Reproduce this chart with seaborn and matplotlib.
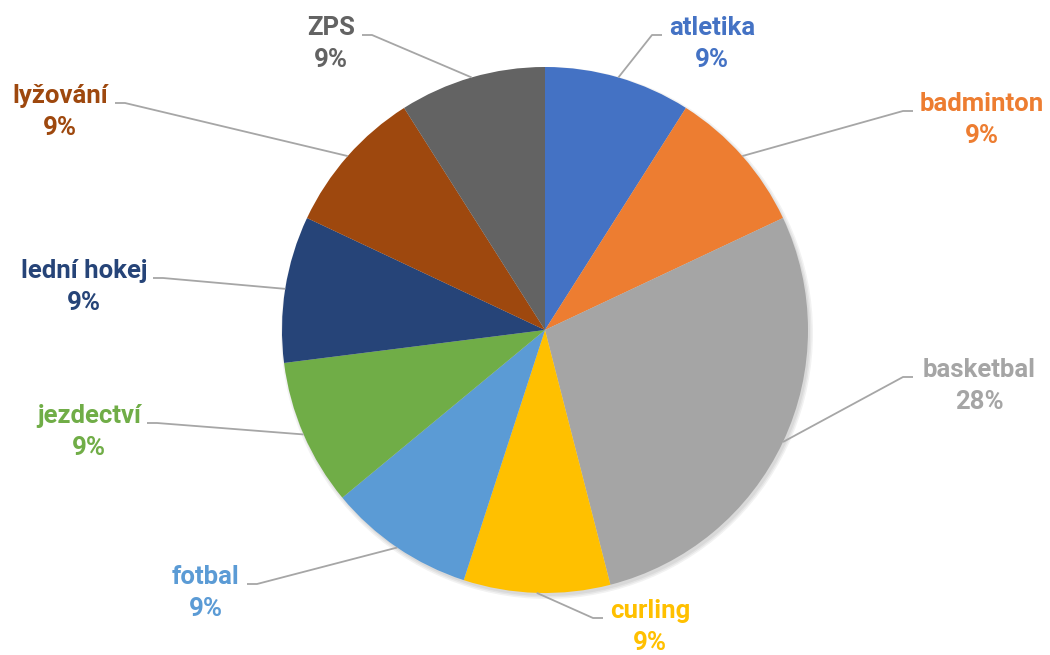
import numpy as np
import seaborn as sns
import matplotlib.pyplot as plt
from matplotlib.patches import Circle

categories = ["atletika", "badminton", "basketbal", "curling", "fotbal",
              "jezdectví", "lední hokej", "lyžování", "ZPS"]
shares = [9, 9, 28, 9, 9, 9, 9, 9, 9]
colors = ["#4472C4", "#ED7D31", "#A5A5A5", "#FFC000", "#5B9BD5",
          "#70AD47", "#264478", "#9E480E", "#636363"]

# label layout in pixels (bend of the leader line, centre of the text)
label_bend = [(652, 35), (903, 111), (903, 377), (593, 618), (257, 584),
              (157, 423), (163, 278), (125, 103), (372, 35)]
label_x = [712, 982, 979, 650, 206, 89, 84, 60, 331]

center = (545, 330)
radius = 263

sns.set_theme(style="white")
plt.rcParams['font.family'] = ['Roboto', 'DejaVu Sans']

fig = plt.figure(figsize=(10.5, 6.55), dpi=100)
ax = fig.add_axes([0, 0, 1, 1])

# soft shadow under the pie
for i, a in enumerate([0.05, 0.05, 0.05]):
    ax.add_patch(Circle((center[0] + 2, center[1] + 3), radius + 3 - i * 1.5,
                        color="black", alpha=a, lw=0, zorder=0))

wedges, _ = ax.pie(shares, colors=colors, startangle=-90, counterclock=True,
                   center=center, radius=radius,
                   wedgeprops=dict(linewidth=0), frame=True)

total = sum(shares)
for w, name, val, col, (bx, by), tx in zip(wedges, categories, shares, colors,
                                            label_bend, label_x):
    theta = np.deg2rad((w.theta1 + w.theta2) / 2)
    ex = center[0] + radius * np.cos(theta)
    ey = center[1] + radius * np.sin(theta)
    side = 1 if tx > bx else -1
    ax.plot([ex, bx, bx + 10 * side], [ey, by, by], color="#A6A6A6",
            lw=1.3, zorder=3, solid_capstyle="butt")
    ax.text(tx, by, name, ha="center", va="baseline", color=col,
            fontsize=18.5, fontweight="bold")
    ax.text(tx, by + 32, f"{val / total * 100:.0f}%", ha="center",
            va="baseline", color=col, fontsize=18.5, fontweight="bold")

ax.set_xlim(0, 1050)
ax.set_ylim(655, 0)
ax.set_aspect("auto")
ax.axis("off")

fig.savefig("out.png", dpi=100)
